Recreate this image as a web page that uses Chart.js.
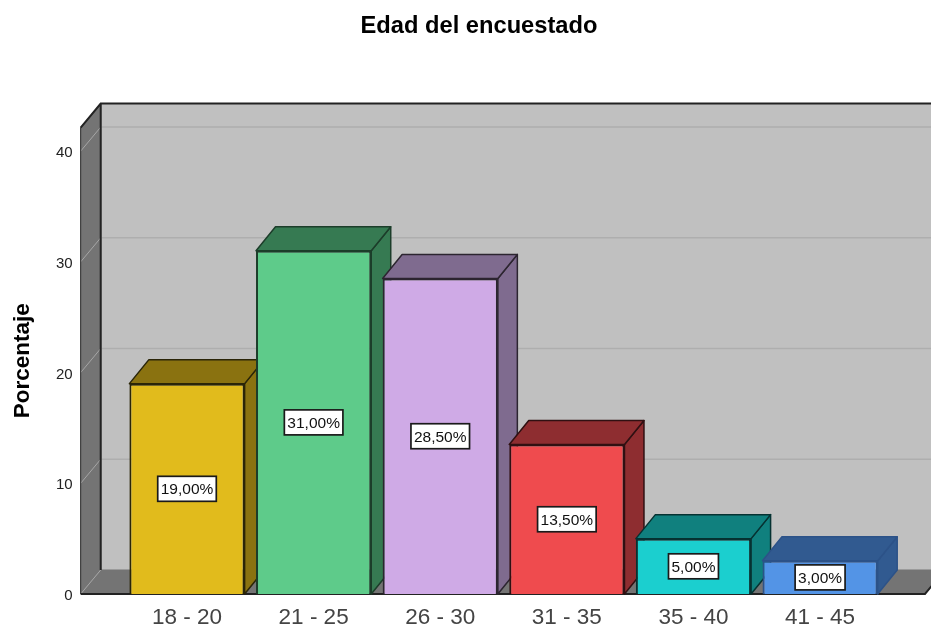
<!DOCTYPE html>
<html>
<head>
<meta charset="utf-8">
<title>Edad del encuestado</title>
<script src="https://cdn.jsdelivr.net/npm/chart.js@4"></script>
<style>
	html, body { margin: 0; padding: 0; background: #fff; overflow: hidden; }
	canvas { display: block; }
</style>
</head>
<body>
<canvas id="edadChart" width="931" height="627"></canvas>
<script>
const categories = ['18 - 20', '21 - 25', '26 - 30', '31 - 35', '35 - 40', '41 - 45'];
const percentages = [19, 31, 28.5, 13.5, 5, 3];
const yTicksMax = 42.13;

const frontColors = ['#e1bb1c', '#5ecb8a', '#cfaae6', '#ef4b4e', '#1bcfcf', '#5394e6'];
const depthColors = ['#8a7210', '#367a52', '#7f6b8f', '#8e2d30', '#10807e', '#315a90'];
const edgeColors = ['#2a2508', '#1c3d2a', '#2c2530', '#301012', '#063232', '#2c5288'];

// how far the box recedes, in pixels
const DEPTH_X = 20;
const DEPTH_Y = 24;
const BAR_DEPTH_X = 19.5;
const WALL_GAP = 43;
const FLOOR_RIGHT = 925;
const TITLE_SHIFT = 37.3;

function quad(ctx, pts, fill, stroke, lineWidth) {
	ctx.beginPath();
	ctx.moveTo(pts[0][0], pts[0][1]);
	for (let i = 1; i < pts.length; i++) {
		ctx.lineTo(pts[i][0], pts[i][1]);
	}
	ctx.closePath();
	ctx.fillStyle = fill;
	ctx.fill();
	ctx.strokeStyle = stroke;
	ctx.lineWidth = lineWidth;
	ctx.lineJoin = 'round';
	ctx.stroke();
}

//back wall, left wall, floor and gridlines, then the depth of every bar
const boxPlugin = {
	id: 'box3d',
	afterLayout(chart) {
		//the title sits over the whole box, not over the padded area
		chart.titleBlock.left += TITLE_SHIFT;
		chart.titleBlock.right += TITLE_SHIFT;
	},
	beforeDatasetsDraw(chart) {
		const ctx = chart.ctx;
		const area = chart.chartArea;
		const y = chart.scales.y;
		const left = area.left - WALL_GAP;
		const top = area.top;
		const bottom = area.bottom;

		ctx.save();
		quad(ctx, [[left + DEPTH_X, top - DEPTH_Y], [FLOOR_RIGHT + DEPTH_X, top - DEPTH_Y], [FLOOR_RIGHT + DEPTH_X, bottom - DEPTH_Y], [left + DEPTH_X, bottom - DEPTH_Y]], '#c0c0c0', '#c0c0c0', 1);
		quad(ctx, [[left, bottom], [FLOOR_RIGHT, bottom], [FLOOR_RIGHT + DEPTH_X, bottom - DEPTH_Y], [left + DEPTH_X, bottom - DEPTH_Y]], '#747474', '#747474', 1);
		quad(ctx, [[left, top], [left + DEPTH_X, top - DEPTH_Y], [left + DEPTH_X, bottom - DEPTH_Y], [left, bottom]], '#747474', '#747474', 1);

		y.ticks.forEach(tick => {
			const py = y.getPixelForValue(tick.value);
			ctx.beginPath();
			ctx.moveTo(left, py);
			ctx.lineTo(left + DEPTH_X, py - DEPTH_Y);
			ctx.strokeStyle = '#a6a6a6';
			ctx.lineWidth = 1;
			ctx.stroke();
			if (tick.value > 0) {
				ctx.beginPath();
				ctx.moveTo(left + DEPTH_X, py - DEPTH_Y);
				ctx.lineTo(FLOOR_RIGHT + DEPTH_X, py - DEPTH_Y);
				ctx.strokeStyle = '#aeaeae';
				ctx.lineWidth = 1.5;
				ctx.stroke();
			}
		});

		ctx.lineJoin = 'miter';
		ctx.strokeStyle = '#333';
		ctx.lineWidth = 1;
		ctx.beginPath();
		ctx.moveTo(left, bottom);
		ctx.lineTo(left, top);
		ctx.stroke();

		ctx.strokeStyle = '#222';
		ctx.lineWidth = 2;
		ctx.beginPath();
		ctx.moveTo(left, top);
		ctx.lineTo(left + DEPTH_X, top - DEPTH_Y);
		ctx.lineTo(FLOOR_RIGHT + DEPTH_X, top - DEPTH_Y);
		ctx.moveTo(left + DEPTH_X, top - DEPTH_Y);
		ctx.lineTo(left + DEPTH_X, bottom - DEPTH_Y);
		ctx.stroke();
		ctx.beginPath();
		ctx.moveTo(left, bottom);
		ctx.lineTo(FLOOR_RIGHT, bottom);
		ctx.lineTo(FLOOR_RIGHT + DEPTH_X, bottom - DEPTH_Y);
		ctx.stroke();

		chart.getDatasetMeta(0).data.forEach((bar, i) => {
			const l = bar.x - bar.width / 2;
			const r = bar.x + bar.width / 2;
			const t = bar.y;
			const b = bar.base;
			quad(ctx, [[r, t], [r + BAR_DEPTH_X, t - DEPTH_Y], [r + BAR_DEPTH_X, b - DEPTH_Y], [r, b]], depthColors[i], edgeColors[i], 1.5);
			quad(ctx, [[l, t], [l + BAR_DEPTH_X, t - DEPTH_Y], [r + BAR_DEPTH_X, t - DEPTH_Y], [r, t]], depthColors[i], edgeColors[i], 1.5);
		});
		ctx.restore();
	},
	afterDatasetsDraw(chart) {
		const ctx = chart.ctx;
		ctx.save();
		ctx.font = '15.5px "Liberation Sans", Arial, sans-serif';
		ctx.textAlign = 'center';
		ctx.textBaseline = 'middle';
		chart.getDatasetMeta(0).data.forEach((bar, i) => {
			const text = percentages[i].toFixed(2).replace('.', ',') + '%';
			const cy = (bar.y + bar.base) / 2;
			const w = ctx.measureText(text).width + 6;
			ctx.fillStyle = '#fff';
			ctx.fillRect(bar.x - w / 2, cy - 12.5, w, 25);
			ctx.strokeStyle = '#1a1a1a';
			ctx.lineWidth = 1.7;
			ctx.strokeRect(bar.x - w / 2, cy - 12.5, w, 25);
			ctx.fillStyle = '#111';
			ctx.fillText(text, bar.x, cy + 1);
		});
		ctx.restore();
	}
};

document.addEventListener('DOMContentLoaded', () => {
	const element = document.getElementById('edadChart').getContext('2d');
	new Chart(element, {
		type: 'bar',
		data: {
			labels: categories,
			datasets: [
				{
					label: 'Porcentaje',
					data: percentages,
					backgroundColor: frontColors,
					borderColor: edgeColors,
					borderWidth: 2,
					barPercentage: 0.91,
					categoryPercentage: 1
				}
			]
		},
		options: {
			responsive: false,
			animation: false,
			layout: { padding: { left: 0, right: 47.6, top: 0, bottom: 0 } },
			plugins: {
				legend: { display: false },
				tooltip: { enabled: false },
				title: {
					display: true,
					text: 'Edad del encuestado',
					color: '#000',
					font: { family: '"Liberation Sans", Arial, sans-serif', size: 23.7, weight: 'bold' },
					padding: { top: 12, bottom: 87.1 }
				}
			},
			scales: {
				x: {
					grid: { display: false },
					border: { display: false },
					ticks: {
						color: '#444',
						padding: 2,
						maxRotation: 0,
						font: { family: '"Liberation Sans", Arial, sans-serif', size: 22.5 }
					},
					afterFit(scale) {
						scale.height = 33;
						scale.paddingLeft = 0;
						scale.paddingRight = 0;
					}
				},
				y: {
					min: 0,
					max: yTicksMax,
					grid: { display: false },
					border: { display: false },
					title: {
						display: true,
						text: 'Porcentaje',
						color: '#000',
						font: { family: '"Liberation Sans", Arial, sans-serif', size: 22.5, weight: 'bold' },
						padding: { top: 9, bottom: 0 }
					},
					ticks: {
						stepSize: 10,
						includeBounds: false,
						color: '#222',
						padding: 43,
						labelOffset: 2,
						font: { family: '"Liberation Sans", Arial, sans-serif', size: 15 }
					},
					afterFit(scale) {
						scale.width = 123.7;
						scale.paddingTop = 0;
						scale.paddingBottom = 0;
					}
				}
			}
		},
		plugins: [boxPlugin]
	});
});
</script>
</body>
</html>
